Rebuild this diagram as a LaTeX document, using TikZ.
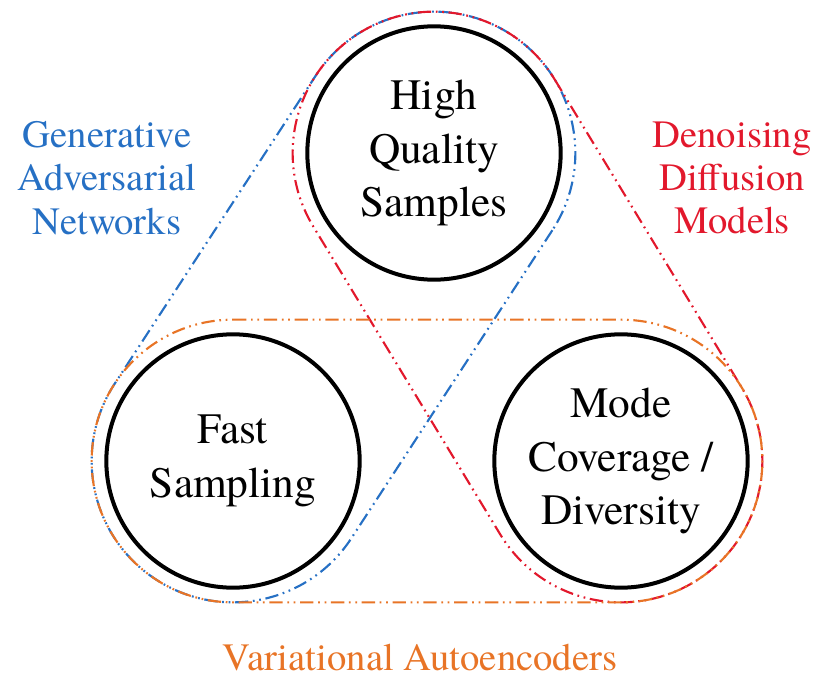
\documentclass[tikz,border=0pt]{standalone}
\usepackage{fontspec}
\setmainfont{texgyretermes}[Extension=.otf, UprightFont=*-regular, BoldFont=*-bold]
\usetikzlibrary{calc}
\definecolor{ganblue}{RGB}{38,112,196}
\definecolor{ddmred}{RGB}{226,24,44}
\definecolor{vaeorange}{RGB}{232,116,38}
\tikzset{
  prop/.style={circle, draw=black, line width=3pt, minimum size=190pt, inner sep=0pt,
    align=center, font=\fontsize{32.5}{40}\selectfont},
  family/.style={align=center, font=\fontsize{29}{32.5}\selectfont},
  hull/.style={line width=1.6pt, dash pattern=on 10pt off 3.5pt on 1.3pt off 3.5pt on 1.3pt off 3.5pt},
}
% stadium around two circle centres #1 and #2
\newcommand{\hullpath}[3]{%
  \draw[hull,#3] let \p1=($(#2)-(#1)$), \n1={atan2(\y1,\x1)} in
    ($(#1)+(\n1+90:106pt)$) -- ($(#2)+(\n1+90:106pt)$)
    arc[start angle=\n1+90, end angle=\n1-90, radius=106pt]
    -- ($(#1)+(\n1-90:106pt)$)
    arc[start angle=\n1-90, end angle=\n1-270, radius=106pt] -- cycle;}
\begin{document}
\begin{tikzpicture}[x=0.75pt,y=-0.75pt]
\useasboundingbox (0,0) rectangle (819,678);
\node[prop] (hq) at (434,153) {High\\Quality\\Samples};
\node[prop] (fs) at (233,461) {Fast\\Sampling};
\node[prop] (mc) at (621,461) {Mode\\Coverage /\\Diversity};

\hullpath{hq.center}{fs.center}{ganblue}
\hullpath{hq.center}{mc.center}{ddmred}
\hullpath{fs.center}{mc.center}{vaeorange}

\node[family, text=ganblue] (gan) at (107,178) {Generative\\Adversarial\\Networks};
\node[family, text=ddmred] (ddm) at (732,178) {Denoising\\Diffusion\\Models};
\node[family, text=vaeorange] (vae) at (420,658) {Variational Autoencoders};
\end{tikzpicture}
\end{document}
